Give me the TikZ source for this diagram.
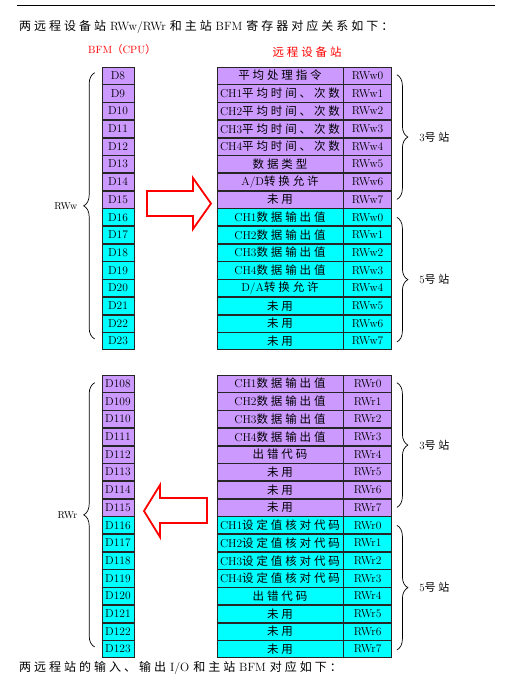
\documentclass[tikz,border=0pt]{standalone}
\usepackage{fontspec}
\usetikzlibrary{positioning,decorations.pathreplacing}
\newfontfamily\cjk[LetterSpace=25]{Noto Sans CJK SC}
\newcommand{\zh}[1]{{\cjk #1}}
\definecolor{bfmpurple}{RGB}{204,153,255}
\definecolor{bfmcyan}{RGB}{0,255,255}

\begin{document}
\begin{tikzpicture}[x=1pt,y=-1pt,
  cell/.style={draw=black!85,line width=0.6pt,inner sep=0pt,minimum height=17.1pt,font=\fontsize{11.5}{11.5}\selectfont},
  bfm/.style={cell,minimum width=32pt},
  regname/.style={cell,minimum width=126pt},
  regno/.style={cell,minimum width=48pt},
  purp/.style={fill=bfmpurple},
  cyn/.style={fill=bfmcyan},
  curly/.style={decorate,decoration={brace,amplitude=11pt},line width=0.7pt},
  bigarrow/.style={draw=red,fill=white,line width=1.8pt,line join=miter}]

  \useasboundingbox (0,0) rectangle (524,681);

  % Page rule and text
  \draw [line width=0.9pt] (17,5) -- (495,5);
  \node [anchor=west,inner sep=0pt,font=\fontsize{12}{12}\selectfont] (title) at (19,27)
    {\zh{两远程设备站} RWw/RWr \zh{和主站} BFM \zh{寄存器对应关系如下：}};
  \node [anchor=west,inner sep=0pt,font=\fontsize{12}{12}\selectfont] (foot) at (19,668)
    {\zh{两远程站的输入、输出} I/O \zh{和主站} BFM \zh{对应如下：}};

  % Column heads
  \node [red,font=\fontsize{10.5}{10.5}\selectfont] (hbfm) at (122,50) {BFM\zh{（}CPU\zh{）}};
  \node [red,font=\fontsize{11.5}{11.5}\selectfont] (hst) at (307,52) {\zh{远程设备站}};

  % BFM RWw
  \node [bfm,purp] (d8) at (118,75.6) {D8};
  \node [bfm,purp,below=0pt of d8] (d9) {D9};
  \node [bfm,purp,below=0pt of d9] (d10) {D10};
  \node [bfm,purp,below=0pt of d10] (d11) {D11};
  \node [bfm,purp,below=0pt of d11] (d12) {D12};
  \node [bfm,purp,below=0pt of d12] (d13) {D13};
  \node [bfm,purp,below=0pt of d13] (d14) {D14};
  \node [bfm,purp,below=0pt of d14] (d15) {D15};
  \node [bfm,cyn,below=0pt of d15] (d16) {D16};
  \node [bfm,cyn,below=0pt of d16] (d17) {D17};
  \node [bfm,cyn,below=0pt of d17] (d18) {D18};
  \node [bfm,cyn,below=0pt of d18] (d19) {D19};
  \node [bfm,cyn,below=0pt of d19] (d20) {D20};
  \node [bfm,cyn,below=0pt of d20] (d21) {D21};
  \node [bfm,cyn,below=0pt of d21] (d22) {D22};
  \node [bfm,cyn,below=0pt of d22] (d23) {D23};

  % Station 3 RWw
  \node [regname,purp] (wn1) at (280,75.6) {\zh{平均处理指令}};
  \node [regno,purp,right=0pt of wn1] (wr1) {RWw0};
  \node [regname,purp,below=0pt of wn1] (wn2) {CH1\zh{平均时间、次数}};
  \node [regno,purp,right=0pt of wn2] (wr2) {RWw1};
  \node [regname,purp,below=0pt of wn2] (wn3) {CH2\zh{平均时间、次数}};
  \node [regno,purp,right=0pt of wn3] (wr3) {RWw2};
  \node [regname,purp,below=0pt of wn3] (wn4) {CH3\zh{平均时间、次数}};
  \node [regno,purp,right=0pt of wn4] (wr4) {RWw3};
  \node [regname,purp,below=0pt of wn4] (wn5) {CH4\zh{平均时间、次数}};
  \node [regno,purp,right=0pt of wn5] (wr5) {RWw4};
  \node [regname,purp,below=0pt of wn5] (wn6) {\zh{数据类型}};
  \node [regno,purp,right=0pt of wn6] (wr6) {RWw5};
  \node [regname,purp,below=0pt of wn6] (wn7) {A/D\zh{转换允许}};
  \node [regno,purp,right=0pt of wn7] (wr7) {RWw6};
  \node [regname,purp,below=0pt of wn7] (wn8) {\zh{未用}};
  \node [regno,purp,right=0pt of wn8] (wr8) {RWw7};

  % Station 5 RWw
  \node [regname,cyn,below=0pt of wn8] (wn9) {CH1\zh{数据输出值}};
  \node [regno,cyn,right=0pt of wn9] (wr9) {RWw0};
  \node [regname,cyn,below=0pt of wn9] (wn10) {CH2\zh{数据输出值}};
  \node [regno,cyn,right=0pt of wn10] (wr10) {RWw1};
  \node [regname,cyn,below=0pt of wn10] (wn11) {CH3\zh{数据输出值}};
  \node [regno,cyn,right=0pt of wn11] (wr11) {RWw2};
  \node [regname,cyn,below=0pt of wn11] (wn12) {CH4\zh{数据输出值}};
  \node [regno,cyn,right=0pt of wn12] (wr12) {RWw3};
  \node [regname,cyn,below=0pt of wn12] (wn13) {D/A\zh{转换允许}};
  \node [regno,cyn,right=0pt of wn13] (wr13) {RWw4};
  \node [regname,cyn,below=0pt of wn13] (wn14) {\zh{未用}};
  \node [regno,cyn,right=0pt of wn14] (wr14) {RWw5};
  \node [regname,cyn,below=0pt of wn14] (wn15) {\zh{未用}};
  \node [regno,cyn,right=0pt of wn15] (wr15) {RWw6};
  \node [regname,cyn,below=0pt of wn15] (wn16) {\zh{未用}};
  \node [regno,cyn,right=0pt of wn16] (wr16) {RWw7};

  % BFM RWr
  \node [bfm,purp] (d108) at (118,383.6) {D108};
  \node [bfm,purp,below=0pt of d108] (d109) {D109};
  \node [bfm,purp,below=0pt of d109] (d110) {D110};
  \node [bfm,purp,below=0pt of d110] (d111) {D111};
  \node [bfm,purp,below=0pt of d111] (d112) {D112};
  \node [bfm,purp,below=0pt of d112] (d113) {D113};
  \node [bfm,purp,below=0pt of d113] (d114) {D114};
  \node [bfm,purp,below=0pt of d114] (d115) {D115};
  \node [bfm,cyn,below=0pt of d115] (d116) {D116};
  \node [bfm,cyn,below=0pt of d116] (d117) {D117};
  \node [bfm,cyn,below=0pt of d117] (d118) {D118};
  \node [bfm,cyn,below=0pt of d118] (d119) {D119};
  \node [bfm,cyn,below=0pt of d119] (d120) {D120};
  \node [bfm,cyn,below=0pt of d120] (d121) {D121};
  \node [bfm,cyn,below=0pt of d121] (d122) {D122};
  \node [bfm,cyn,below=0pt of d122] (d123) {D123};

  % Station 3 RWr
  \node [regname,purp] (rn1) at (280,383.6) {CH1\zh{数据输出值}};
  \node [regno,purp,right=0pt of rn1] (rr1) {RWr0};
  \node [regname,purp,below=0pt of rn1] (rn2) {CH2\zh{数据输出值}};
  \node [regno,purp,right=0pt of rn2] (rr2) {RWr1};
  \node [regname,purp,below=0pt of rn2] (rn3) {CH3\zh{数据输出值}};
  \node [regno,purp,right=0pt of rn3] (rr3) {RWr2};
  \node [regname,purp,below=0pt of rn3] (rn4) {CH4\zh{数据输出值}};
  \node [regno,purp,right=0pt of rn4] (rr4) {RWr3};
  \node [regname,purp,below=0pt of rn4] (rn5) {\zh{出错代码}};
  \node [regno,purp,right=0pt of rn5] (rr5) {RWr4};
  \node [regname,purp,below=0pt of rn5] (rn6) {\zh{未用}};
  \node [regno,purp,right=0pt of rn6] (rr6) {RWr5};
  \node [regname,purp,below=0pt of rn6] (rn7) {\zh{未用}};
  \node [regno,purp,right=0pt of rn7] (rr7) {RWr6};
  \node [regname,purp,below=0pt of rn7] (rn8) {\zh{未用}};
  \node [regno,purp,right=0pt of rn8] (rr8) {RWr7};

  % Station 5 RWr
  \node [regname,cyn,below=0pt of rn8] (rn9) {CH1\zh{设定值核对代码}};
  \node [regno,cyn,right=0pt of rn9] (rr9) {RWr0};
  \node [regname,cyn,below=0pt of rn9] (rn10) {CH2\zh{设定值核对代码}};
  \node [regno,cyn,right=0pt of rn10] (rr10) {RWr1};
  \node [regname,cyn,below=0pt of rn10] (rn11) {CH3\zh{设定值核对代码}};
  \node [regno,cyn,right=0pt of rn11] (rr11) {RWr2};
  \node [regname,cyn,below=0pt of rn11] (rn12) {CH4\zh{设定值核对代码}};
  \node [regno,cyn,right=0pt of rn12] (rr12) {RWr3};
  \node [regname,cyn,below=0pt of rn12] (rn13) {\zh{出错代码}};
  \node [regno,cyn,right=0pt of rn13] (rr13) {RWr4};
  \node [regname,cyn,below=0pt of rn13] (rn14) {\zh{未用}};
  \node [regno,cyn,right=0pt of rn14] (rr14) {RWr5};
  \node [regname,cyn,below=0pt of rn14] (rn15) {\zh{未用}};
  \node [regno,cyn,right=0pt of rn15] (rr15) {RWr6};
  \node [regname,cyn,below=0pt of rn15] (rn16) {\zh{未用}};
  \node [regno,cyn,right=0pt of rn16] (rr16) {RWr7};

  % Braces
  \draw [curly] ([xshift=-7pt,yshift=11pt]d23.south west) -- ([xshift=-7pt,yshift=-6pt]d8.north west)
    node [midway,left=17pt,inner sep=0pt,font=\fontsize{10}{10}\selectfont] (rww) {RWw};
  \draw [curly] ([xshift=5pt,yshift=-8pt]wr1.north east) -- ([xshift=5pt,yshift=9pt]wr8.south east)
    node [midway,right=22pt,inner sep=0pt,font=\fontsize{11}{11}\selectfont] (s3w) {3\zh{号站}};
  \draw [curly] ([xshift=5pt,yshift=-9pt]wr9.north east) -- ([xshift=5pt,yshift=8pt]wr16.south east)
    node [midway,right=22pt,inner sep=0pt,font=\fontsize{11}{11}\selectfont] (s5w) {5\zh{号站}};
  \draw [curly] ([xshift=-7pt,yshift=11pt]d123.south west) -- ([xshift=-7pt,yshift=-8pt]d108.north west)
    node [midway,left=17pt,inner sep=0pt,font=\fontsize{10}{10}\selectfont] (rwr) {RWr};
  \draw [curly] ([xshift=5pt,yshift=-8pt]rr1.north east) -- ([xshift=5pt,yshift=9pt]rr8.south east)
    node [midway,right=22pt,inner sep=0pt,font=\fontsize{11}{11}\selectfont] (s3r) {3\zh{号站}};
  \draw [curly] ([xshift=5pt,yshift=-9pt]rr9.north east) -- ([xshift=5pt,yshift=8pt]rr16.south east)
    node [midway,right=22pt,inner sep=0pt,font=\fontsize{11}{11}\selectfont] (s5r) {5\zh{号站}};

  % Big arrows
  \draw [bigarrow] (147,191) -- (193,191) -- (193,178) -- (211,203.5) -- (193,229) -- (193,216) -- (147,216) -- cycle;
  \draw [bigarrow] (207,498) -- (160,498) -- (160,485) -- (144,511) -- (160,537) -- (160,523) -- (207,523) -- cycle;

\end{tikzpicture}
\end{document}
